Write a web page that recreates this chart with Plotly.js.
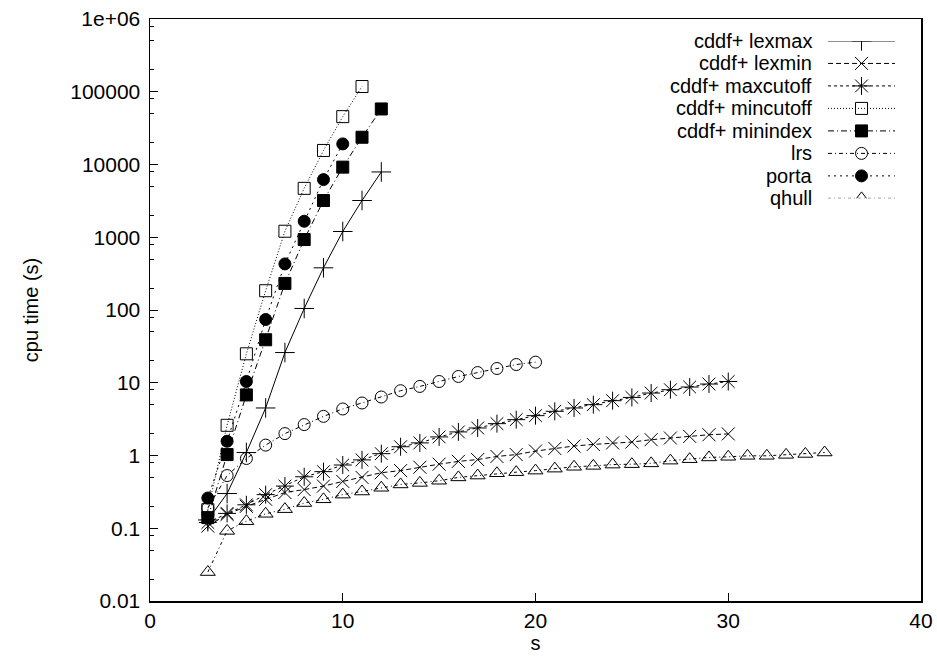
<!DOCTYPE html>
<html>
<head>
<meta charset="utf-8">
<script src="https://cdn.plot.ly/plotly-3.0.1.min.js"></script>
<style>html,body{margin:0;padding:0;background:#fff}#chart{width:937px;height:656px}</style>
</head>
<body>
<div id="chart"></div>
<script>
// ---- data ----
const seriesNames = ["cddf+ lexmax","cddf+ lexmin","cddf+ maxcutoff","cddf+ mincutoff","cddf+ minindex","lrs","porta","qhull"];

const sLexmax = [3,4,5,6,7,8,9,10,11,12];
const lexmax  = [0.13,0.30,1.1,4.5,26,105,380,1200,3200,7900];

const sLexmin = [3,4,5,6,7,8,9,10,11,12,13,14,15,16,17,18,19,20,21,22,23,24,25,26,27,28,29,30];
const lexmin  = [0.107,0.155,0.20,0.25,0.31,0.34,0.38,0.44,0.50,0.58,0.62,0.69,0.76,0.83,0.88,0.97,1.03,1.15,1.25,1.35,1.42,1.49,1.53,1.65,1.74,1.83,1.93,1.98];

const sMaxcutoff = [3,4,5,6,7,8,9,10,11,12,13,14,15,16,17,18,19,20,21,22,23,24,25,26,27,28,29,30];
const maxcutoff  = [0.12,0.16,0.21,0.29,0.38,0.51,0.60,0.74,0.87,1.06,1.32,1.49,1.80,2.11,2.39,2.74,3.11,3.53,4.05,4.5,5.0,5.67,6.29,7.22,8.02,8.73,9.6,10.4];

const sMincutoff = [3,4,5,6,7,8,9,10,11];
const mincutoff  = [0.18,2.6,25,184,1210,4700,15600,45500,118000];

const sMinindex = [3,4,5,6,7,8,9,10,11,12];
const minindex  = [0.14,1.03,6.8,39,232,930,3200,9200,23700,58000];

const sLrs = [3,4,5,6,7,8,9,10,11,12,13,14,15,16,17,18,19,20];
const lrs  = [0.19,0.53,0.91,1.39,2.0,2.66,3.45,4.36,5.27,6.37,7.77,8.9,10.4,12.2,13.8,15.7,17.8,19.2];

const sPorta = [3,4,5,6,7,8,9,10];
const porta  = [0.26,1.57,10.4,74,430,1660,6200,19200];

const sQhull = [3,4,5,6,7,8,9,10,11,12,13,14,15,16,17,18,19,20,21,22,23,24,25,26,27,28,29,30,31,32,33,34,35];
const qhull  = [0.025,0.092,0.125,0.158,0.183,0.222,0.25,0.29,0.32,0.36,0.40,0.42,0.45,0.50,0.53,0.57,0.59,0.62,0.66,0.70,0.72,0.75,0.76,0.78,0.85,0.89,0.94,0.96,0.99,0.99,1.02,1.05,1.1];

const yTickVals = [0.01,0.1,1,10,100,1000,10000,100000,1000000];
const yTickText = ["0.01","0.1","1","10","100","1000","10000","100000","1e+06"];
const xTickVals = [0,10,20,30,40];

// ---- styles ----
const xs = [sLexmax,sLexmin,sMaxcutoff,sMincutoff,sMinindex,sLrs,sPorta,sQhull];
const ys = [lexmax,lexmin,maxcutoff,mincutoff,minindex,lrs,porta,qhull];
const dashes = ["solid","5px,3px","3px,3px","1px,2px","6px,3px,1px,3px","4px,3px,1px,3px","2px,4px","3px,3px,1px,3px"];
const symbols = ["cross-thin-open","x-thin-open","asterisk-open","square-open","square","circle-open","circle","triangle-up-open"];
const sizes = [14,13,15,12,12,12,12,13];
const FONT = "Liberation Sans, Arial, Helvetica, sans-serif";
const FS_TICK = 21;
const FS = 20;

const traces = [];
for (let i = 0; i < seriesNames.length; i++) {
  traces.push({
    type: "scatter", mode: "lines+markers", name: seriesNames[i],
    x: xs[i], y: ys[i], showlegend: false,
    line: {color: "#000", width: 1, dash: dashes[i]},
    marker: {symbol: symbols[i], size: sizes[i], color: "#000", line: {color: "#000", width: 1}},
    cliponaxis: false
  });
}
// custom legend samples (text left of sample, as in the reference)
const annotations = [];
for (let i = 0; i < seriesNames.length; i++) {
  traces.push({
    type: "scatter", mode: "lines+markers", xaxis: "x2", yaxis: "y2",
    x: [0, 0.5, 1], y: [i, i, i], showlegend: false, hoverinfo: "skip",
    line: {color: "#000", width: 1, dash: dashes[i]},
    marker: {symbol: symbols[i], size: sizes[i], color: "#000", opacity: [0,1,0], line: {color: "#000", width: 1}}
  });
  annotations.push({
    xref: "x2", yref: "y2", x: 0, y: i, text: seriesNames[i], showarrow: false,
    xanchor: "right", yanchor: "middle", xshift: -14,
    font: {family: FONT, size: FS, color: "#000"}
  });
}

const layout = {
  width: 937, height: 656,
  margin: {l: 150, r: 16, t: 19, b: 55},
  paper_bgcolor: "#fff", plot_bgcolor: "#fff",
  showlegend: false,
  font: {family: FONT, size: FS, color: "#000"},
  xaxis: {
    range: [0, 40], tickmode: "array", tickvals: xTickVals,
    ticks: "inside", ticklen: 8, tickwidth: 1, tickcolor: "#000",
    showline: true, linecolor: "#000", linewidth: 1.5, mirror: true,
    showgrid: false, zeroline: false,
    tickfont: {family: FONT, size: FS_TICK},
    title: {text: "s", font: {family: FONT, size: FS}, standoff: 4}
  },
  yaxis: {
    type: "log", range: [-2, 6], tickmode: "array", tickvals: yTickVals, ticktext: yTickText,
    ticks: "inside", ticklen: 8, tickwidth: 1, tickcolor: "#000", ticklabelstandoff: 4,
    minor: {tickmode: "array", tickvals: [0.02,0.05,0.08,0.2,0.5,0.8,2,5,8,20,50,80,200,500,800,2000,5000,8000,20000,50000,80000,200000,500000,800000], ticks: "inside", ticklen: 4, tickwidth: 1, tickcolor: "#000", showgrid: false},
    showline: true, linecolor: "#000", linewidth: 1.5, mirror: true,
    showgrid: false, zeroline: false,
    tickfont: {family: FONT, size: FS_TICK},
    title: {text: "cpu time (s)", font: {family: FONT, size: FS}, standoff: 26}
  },
  xaxis2: {domain: [0.8794, 0.9663], range: [0, 1], anchor: "y2", visible: false, fixedrange: true},
  yaxis2: {domain: [0.6918, 0.9623], range: [7, 0], anchor: "x2", visible: false, fixedrange: true},
  annotations: annotations
};

Plotly.newPlot("chart", traces, layout, {displayModeBar: false, staticPlot: true});
</script>
</body>
</html>
